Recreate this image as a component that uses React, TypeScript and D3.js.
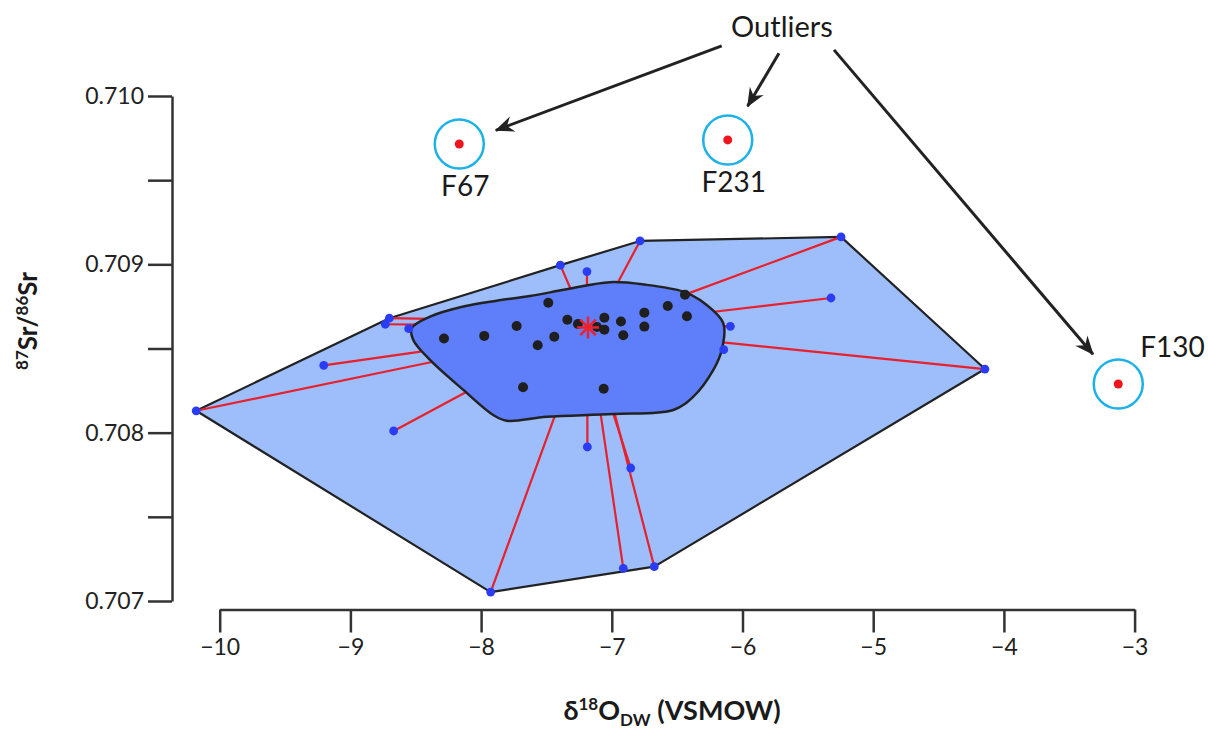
import React, { useRef, useEffect } from 'react'
import * as d3 from 'd3'

// δ18O (x) and 87Sr/86Sr (y)
const hullPoints: [number, number][] = [
  [-10.18, 0.70813], [-9.204, 0.7084], [-8.702, 0.70868], [-8.733, 0.708644],
  [-8.554, 0.708618], [-8.669, 0.70801], [-7.394, 0.708995], [-7.19, 0.708957],
  [-6.784, 0.709139], [-5.246, 0.709163], [-5.323, 0.7088], [-6.093, 0.708632],
  [-6.144, 0.708493], [-4.145, 0.708378], [-7.187, 0.707915], [-6.855, 0.70779],
  [-6.912, 0.707194], [-6.675, 0.707204], [-7.927, 0.707053],
]

// where each outer sample's tie line meets the core group (null = sits on the edge)
const tieTargets: ([number, number] | null)[] = [
  [-8.376, 0.70842], [-8.462, 0.708481], [-8.391, 0.708676], [-8.42, 0.708642],
  null, [-8.085, 0.708254], [-7.305, 0.708836], [-7.19, 0.708836],
  [-6.976, 0.70886], [-6.44, 0.70882], [-6.233, 0.708717], [-6.188, 0.708634],
  null, [-6.188, 0.708539], [-7.187, 0.708135], [-6.998, 0.708135],
  [-7.09, 0.708135], [-6.985, 0.708135], [-7.419, 0.708135],
]

const corePoints: [number, number][] = [
  [-8.284, 0.708559], [-7.976, 0.708575], [-7.728, 0.708634], [-7.486, 0.708772],
  [-7.34, 0.708671], [-7.44, 0.70857], [-7.567, 0.708519], [-7.259, 0.708646],
  [-7.113, 0.708628], [-7.057, 0.708683], [-7.057, 0.708612], [-6.93, 0.70866],
  [-6.912, 0.708579], [-6.751, 0.708713], [-6.751, 0.70863], [-6.572, 0.708753],
  [-6.425, 0.708692], [-6.44, 0.70882], [-7.679, 0.70827], [-7.062, 0.708261],
]

const coreOutline: [number, number][] = [
  [-8.531, 0.70862], [-8.391, 0.708689], [-8.136, 0.708749], [-7.881, 0.708784],
  [-7.626, 0.708812], [-7.345, 0.708852], [-7.014, 0.708894], [-6.733, 0.708878],
  [-6.453, 0.708838], [-6.325, 0.708788], [-6.147, 0.70865], [-6.159, 0.708491],
  [-6.223, 0.708373], [-6.376, 0.708214], [-6.529, 0.708135], [-6.989, 0.708111],
  [-7.498, 0.708095], [-7.804, 0.708071], [-7.907, 0.708105], [-8.136, 0.708254],
  [-8.391, 0.708432], [-8.519, 0.708551],
]

const centroid: [number, number] = [-7.182, 0.708625]

const outlierNames = ['F67', 'F231', 'F130']
const outlierValues: [number, number][] = [[-8.167, 0.709715], [-6.113, 0.709739], [-3.125, 0.708289]]
const arrowStarts: [number, number][] = [[-6.159, 0.710298], [-5.721, 0.710254], [-5.3, 0.710274]]
const calloutText = 'Outliers'
const calloutAt: [number, number] = [-5.698, 0.710353]

const xTicks = d3.range(-10, -2, 1)
const yTicks = d3.range(0.707, 0.71001, 0.0005)

const FONT = 'Lato, "Open Sans", sans-serif'

export default function App() {
  const svgRef = useRef<SVGSVGElement>(null)

  useEffect(() => {
    const width = 1208
    const height = 730
    const svg = d3.select(svgRef.current)
    svg.selectAll('*').remove()
    svg.attr('width', width).attr('height', height)

    const x = d3.scaleLinear().domain([-10, -3]).range([219.7, 1134.6])
    const y = d3.scaleLinear().domain([0.707, 0.71]).range([601, 96])
    const px = (d: [number, number]): [number, number] => [x(d[0]), y(d[1])]

    const defs = svg.append('defs')
    defs.append('marker')
      .attr('id', 'arrow')
      .attr('viewBox', '-19 -9 21 18')
      .attr('markerWidth', 21)
      .attr('markerHeight', 18)
      .attr('markerUnits', 'userSpaceOnUse')
      .attr('orient', 'auto')
      .append('path')
      .attr('d', 'M1,0 L-18,-8 L-12,0 L-18,8 Z')
      .attr('fill', '#222')

    // axes
    const yAxis = svg.append('g')
      .attr('transform', 'translate(172,0)')
      .call(d3.axisLeft(y).tickValues(yTicks).tickSize(24).tickSizeOuter(0).tickPadding(4)
        .tickFormat((d) => (Math.round(+d * 10000) % 10 === 0 ? d3.format('.3f')(+d) : '')))
    yAxis.attr('font-family', FONT).attr('font-size', 23)
    yAxis.selectAll('path, line').attr('stroke', '#333').attr('stroke-width', 2.5)
    yAxis.selectAll('text').attr('fill', '#222')

    const xAxis = svg.append('g')
      .attr('transform', 'translate(0,609.5)')
      .call(d3.axisBottom(x).tickValues(xTicks).tickSize(23).tickSizeOuter(0).tickPadding(6)
        .tickFormat(d3.format('d')))
    xAxis.attr('font-family', FONT).attr('font-size', 23)
    xAxis.selectAll('path, line').attr('stroke', '#333').attr('stroke-width', 2.5)
    xAxis.selectAll('text').attr('fill', '#222')

    // outer hull of all samples
    const hull = d3.polygonHull(hullPoints.map(px)) || []
    svg.append('path')
      .attr('d', 'M' + hull.join('L') + 'Z')
      .attr('fill', '#9dbefb')
      .attr('stroke', '#222')
      .attr('stroke-width', 2.2)
      .attr('stroke-linejoin', 'round')

    // tie lines (drawn under the core outline)
    svg.append('g')
      .selectAll('line')
      .data(hullPoints.map((p, i) => [p, tieTargets[i]]).filter((d) => d[1]))
      .join('line')
      .attr('x1', (d) => x(d[0]![0])).attr('y1', (d) => y(d[0]![1]))
      .attr('x2', (d) => x(d[1]![0])).attr('y2', (d) => y(d[1]![1]))
      .attr('stroke', '#e8202b')
      .attr('stroke-width', 2.2)

    // core group
    const blob = d3.line<[number, number]>()
      .x((d) => x(d[0])).y((d) => y(d[1]))
      .curve(d3.curveCatmullRomClosed.alpha(0.5))
    svg.append('path')
      .datum(coreOutline)
      .attr('d', blob)
      .attr('fill', '#5e7ff9')
      .attr('stroke', '#222')
      .attr('stroke-width', 2.5)

    svg.append('g')
      .selectAll('circle')
      .data(hullPoints)
      .join('circle')
      .attr('cx', (d) => x(d[0])).attr('cy', (d) => y(d[1]))
      .attr('r', 4.4)
      .attr('fill', '#2b3cf5')

    svg.append('g')
      .selectAll('circle')
      .data(corePoints)
      .join('circle')
      .attr('cx', (d) => x(d[0])).attr('cy', (d) => y(d[1]))
      .attr('r', 5)
      .attr('fill', '#1f1f1f')

    // centroid asterisk
    const [cx, cy] = px(centroid)
    svg.append('g')
      .attr('transform', `translate(${cx},${cy})`)
      .selectAll('line')
      .data([0, 45, 90, 135])
      .join('line')
      .attr('x1', (a) => -11 * Math.cos((a * Math.PI) / 180))
      .attr('y1', (a) => -11 * Math.sin((a * Math.PI) / 180))
      .attr('x2', (a) => 11 * Math.cos((a * Math.PI) / 180))
      .attr('y2', (a) => 11 * Math.sin((a * Math.PI) / 180))
      .attr('stroke', '#f0202a')
      .attr('stroke-width', 2.5)

    // outliers
    const out = svg.append('g')
    outlierValues.forEach((d, i) => {
      const [ox, oy] = px(d)
      out.append('circle').attr('cx', ox).attr('cy', oy).attr('r', 24.5)
        .attr('fill', 'none').attr('stroke', '#1eb1e8').attr('stroke-width', 2.5)
      out.append('circle').attr('cx', ox).attr('cy', oy).attr('r', 4.5).attr('fill', '#f0141e')
      const right = i === 2
      out.append('text')
        .attr('x', right ? ox + 22 : ox + 6)
        .attr('y', right ? oy - 27 : oy + 52)
        .attr('text-anchor', right ? 'start' : 'middle')
        .attr('font-family', FONT).attr('font-size', 28).attr('fill', '#1a1a1a')
        .text(outlierNames[i])

      const [sx, sy] = px(arrowStarts[i])
      const len = Math.hypot(sx - ox, sy - oy)
      const tx = ox + ((sx - ox) / len) * 39
      const ty = oy + ((sy - oy) / len) * 39
      out.append('line').attr('x1', sx).attr('y1', sy).attr('x2', tx).attr('y2', ty)
        .attr('stroke', '#222').attr('stroke-width', 3).attr('marker-end', 'url(#arrow)')
    })

    const [lx, ly] = px(calloutAt)
    svg.append('text')
      .attr('x', lx).attr('y', ly)
      .attr('text-anchor', 'middle')
      .attr('font-family', FONT).attr('font-size', 29).attr('fill', '#1a1a1a')
      .text(calloutText)

    // axis titles
    const xt = svg.append('text')
      .attr('x', 672).attr('y', 720)
      .attr('text-anchor', 'middle')
      .attr('font-family', FONT).attr('font-weight', 'bold').attr('font-size', 27).attr('fill', '#1a1a1a')
    xt.append('tspan').text('δ')
    xt.append('tspan').attr('font-size', 17).attr('dy', -10).text('18')
    xt.append('tspan').attr('dy', 10).text('O')
    xt.append('tspan').attr('font-size', 17).attr('dy', 6).text('DW')
    xt.append('tspan').attr('dy', -6).text(' (VSMOW)')

    const yt = svg.append('text')
      .attr('transform', 'translate(37,321) rotate(-90)')
      .attr('text-anchor', 'middle')
      .attr('font-family', FONT).attr('font-weight', 'bold').attr('font-size', 26).attr('fill', '#1a1a1a')
    yt.append('tspan').attr('font-size', 17).attr('dy', -9).text('87')
    yt.append('tspan').attr('dy', 9).text('Sr/')
    yt.append('tspan').attr('font-size', 17).attr('dy', -9).text('86')
    yt.append('tspan').attr('dy', 9).text('Sr')
  }, [])

  return (
    <div style={{ position: 'absolute', left: 0, top: 0, background: '#fff' }}>
      <svg ref={svgRef} role="img" aria-label="Sr isotope ratio versus oxygen isotope scatter with hull and outliers" />
    </div>
  )
}
